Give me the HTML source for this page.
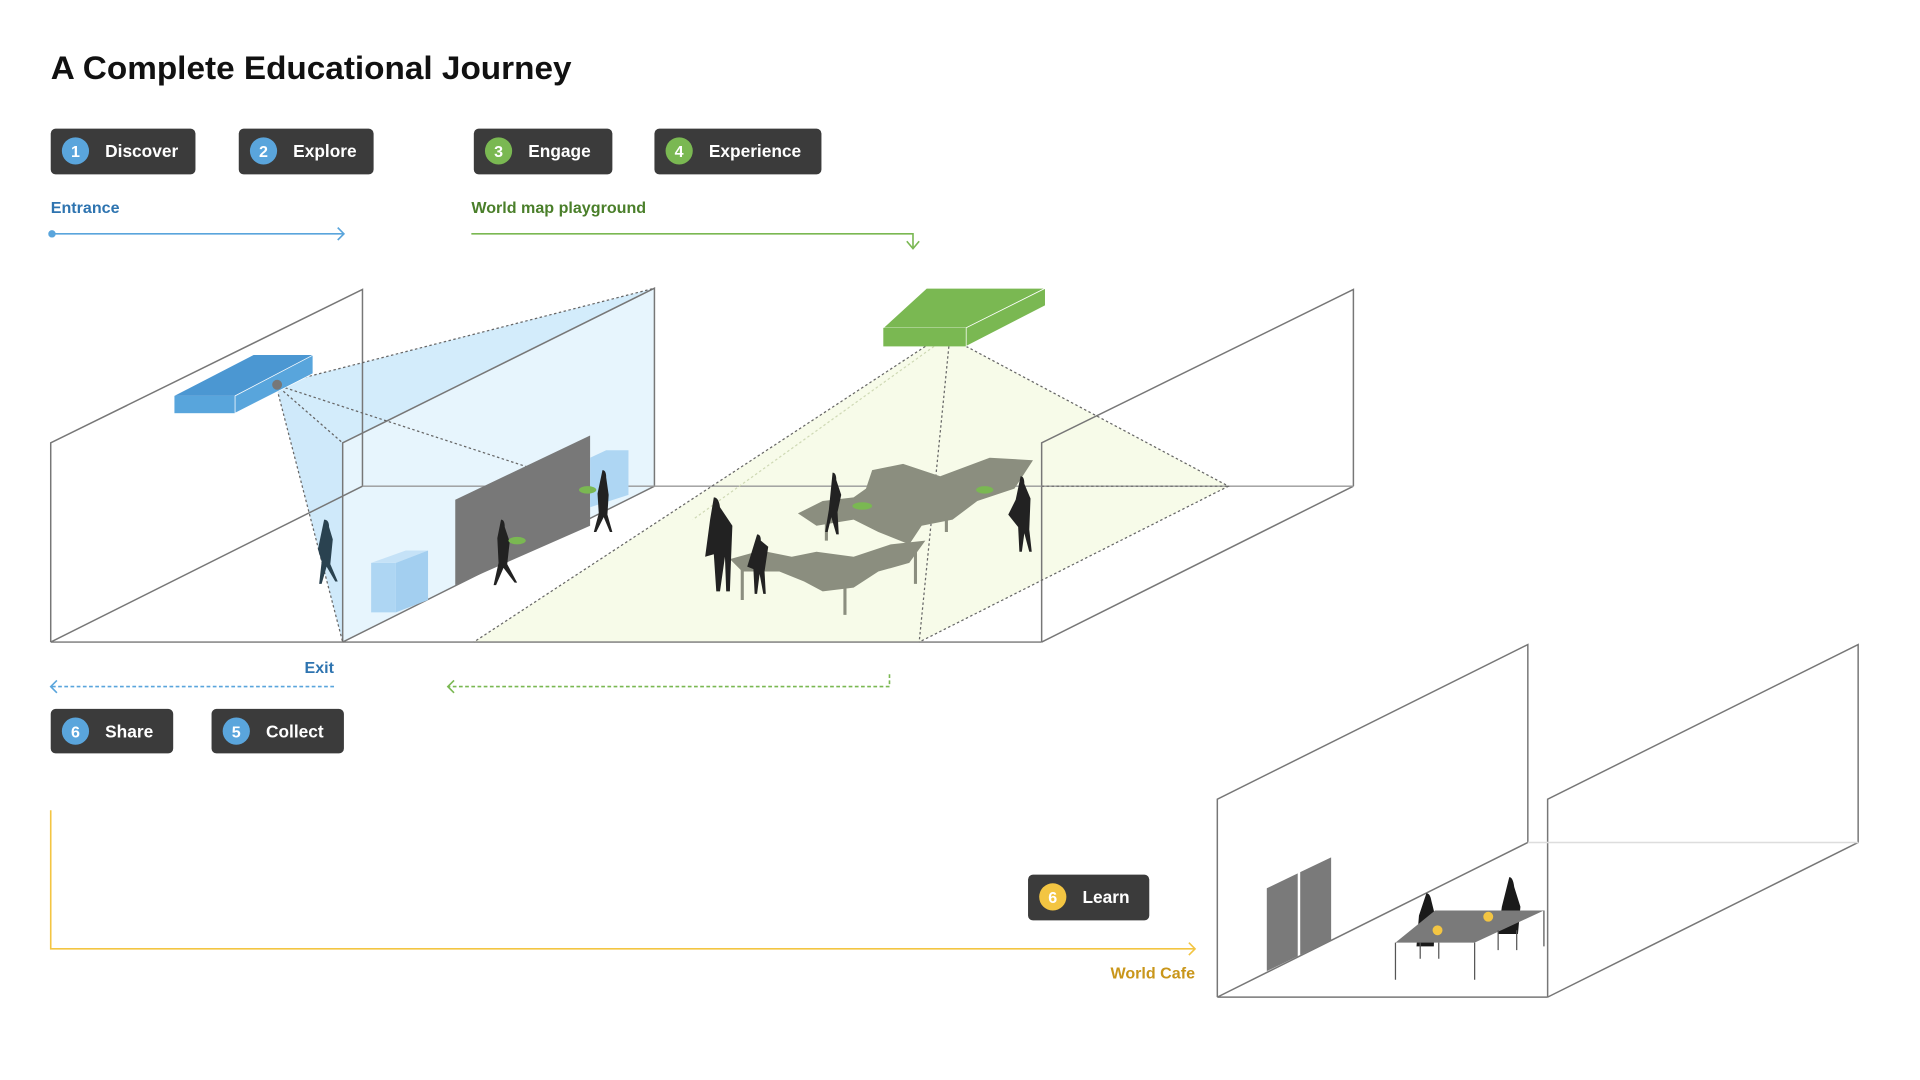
<!DOCTYPE html>
<html><head><meta charset="utf-8"><style>
html,body{margin:0;padding:0;background:#fff;}
svg{display:block;}
text{font-family:"Liberation Sans",sans-serif;}
</style></head><body>
<svg width="1920" height="1080" viewBox="0 0 1552 873" xmlns="http://www.w3.org/2000/svg">
<rect width="1552" height="873" fill="#fff"/>
<text x="41" y="64" font-size="26" font-weight="bold" fill="#111" textLength="421" lengthAdjust="spacingAndGlyphs">A Complete Educational Journey</text>

<!-- top buttons -->
<g font-size="14" font-weight="bold" fill="#fff">
<rect x="41" y="104" width="117" height="37" rx="4" fill="#3b3b3b"/><circle cx="61" cy="122" r="11" fill="#5aa5dc"/><text x="61" y="127" font-size="13" text-anchor="middle">1</text><text x="85" y="127">Discover</text>
<rect x="193" y="104" width="109" height="37" rx="4" fill="#3b3b3b"/><circle cx="213" cy="122" r="11" fill="#5aa5dc"/><text x="213" y="127" font-size="13" text-anchor="middle">2</text><text x="237" y="127">Explore</text>
<rect x="383" y="104" width="112" height="37" rx="4" fill="#3b3b3b"/><circle cx="403" cy="122" r="11" fill="#7ab852"/><text x="403" y="127" font-size="13" text-anchor="middle">3</text><text x="427" y="127">Engage</text>
<rect x="529" y="104" width="135" height="37" rx="4" fill="#3b3b3b"/><circle cx="549" cy="122" r="11" fill="#7ab852"/><text x="549" y="127" font-size="13" text-anchor="middle">4</text><text x="573" y="127">Experience</text>
<rect x="41" y="573" width="99" height="36" rx="4" fill="#3b3b3b"/><circle cx="61" cy="591" r="11" fill="#5aa5dc"/><text x="61" y="596" font-size="13" text-anchor="middle">6</text><text x="85" y="596">Share</text>
<rect x="171" y="573" width="107" height="36" rx="4" fill="#3b3b3b"/><circle cx="191" cy="591" r="11" fill="#5aa5dc"/><text x="191" y="596" font-size="13" text-anchor="middle">5</text><text x="215" y="596">Collect</text>
<rect x="831" y="707" width="98" height="37" rx="4" fill="#3b3b3b"/><circle cx="851" cy="725" r="11" fill="#f3c542"/><text x="851" y="730" font-size="13" text-anchor="middle">6</text><text x="875" y="730">Learn</text>
</g>

<!-- labels and arrows -->
<text x="41" y="172" font-size="13" font-weight="bold" fill="#2e74b0">Entrance</text>
<line x1="41" y1="189" x2="278" y2="189" stroke="#5aa5dc" stroke-width="1.3"/>
<circle cx="42" cy="189" r="3" fill="#5aa5dc"/>
<path d="M273 184 L278 189 L273 194" fill="none" stroke="#5aa5dc" stroke-width="1.3"/>
<text x="381" y="172" font-size="13" font-weight="bold" fill="#4a7f2a">World map playground</text>
<path d="M381 189 H738 V200" fill="none" stroke="#7ab852" stroke-width="1.3"/>
<path d="M733 195 L738 201 L743 195" fill="none" stroke="#7ab852" stroke-width="1.3"/>

<text x="270" y="544" font-size="13" font-weight="bold" fill="#2e74b0" text-anchor="end">Exit</text>
<line x1="42" y1="555" x2="270" y2="555" stroke="#5aa5dc" stroke-width="1.3" stroke-dasharray="3 2"/>
<path d="M46 550 L41 555 L46 560" fill="none" stroke="#5aa5dc" stroke-width="1.3"/>
<path d="M719 545 V555 H363" fill="none" stroke="#7ab852" stroke-width="1.3" stroke-dasharray="3 2"/>
<path d="M367 550 L362 555 L367 560" fill="none" stroke="#7ab852" stroke-width="1.3"/>

<path d="M41 655 V767 H966" fill="none" stroke="#f3c542" stroke-width="1.3"/>
<path d="M961 762 L966 767 L961 772" fill="none" stroke="#f3c542" stroke-width="1.3"/>
<text x="966" y="791" font-size="13" font-weight="bold" fill="#c9961a" text-anchor="end">World Cafe</text>

<!-- room 1 fills -->
<polygon points="277,358 529,233 529,393 277,519" fill="#e7f5fd"/>
<polygon points="223,311 529,233 277,358" fill="#d3ecfb"/>
<polygon points="223,311 277,358 277,519" fill="#cfe9fa"/>
<polygon points="748,280 383,519 743,519 993,393 781,280" fill="#f7fbe9"/>

<!-- room 1 lines -->
<g stroke="#777" stroke-width="1.2" fill="none">
<path d="M41 519 V358 L293 234 V393"/>
<path d="M277 519 V358 L529 233 V393"/>
<path d="M842 519 V358 L1094 234 V393"/>
<path d="M41 519 H842"/>
<path d="M41 519 L293 393 M277 519 L529 393 M842 519 L1094 393"/>
<path d="M293 393 H1094" stroke="#999"/>
</g>

<!-- projection dotted lines -->
<g stroke="#666" stroke-width="1" fill="none" stroke-dasharray="2 2">
<path d="M223 311 L529 233 M223 311 L277 358 M223 311 L277 519 M223 311 L480 395"/>
<path d="M748 280 L383 519 M767 280 L743 519 M781 280 L993 393 L743 519 M842 393 H993"/>
<path d="M755 280 L560 420" stroke="#cfd9b5"/>
</g>

<!-- blue projector -->
<polygon points="141,320 205,287 253,287 190,320" fill="#4b97d2"/>
<rect x="141" y="320" width="49" height="14" fill="#58a5dc"/>
<polygon points="190,320 253,287 253,302 190,334" fill="#58a5dc" stroke="#fff" stroke-width="0.6"/>
<circle cx="224" cy="311" r="4" fill="#777"/>

<!-- green projector -->
<polygon points="714,265 749,233 845,233 781,265" fill="#7ab852" stroke="#fff" stroke-width="0.6"/>
<rect x="714" y="265" width="67" height="15" fill="#7ab852"/>
<polygon points="781,265 845,233 845,247 781,280" fill="#7ab852" stroke="#fff" stroke-width="0.6"/>

<!-- grey wall & boxes -->
<polygon points="368,404 477,352 477,425 368,473" fill="#787878"/>
<polygon points="300,455 320,455 320,495 300,495" fill="#aed6f3"/>
<polygon points="300,455 328,445 346,445 320,455" fill="#c5e2f7"/>
<polygon points="320,455 346,445 346,485 320,495" fill="#a3cff0"/>
<polygon points="477,370 490,364 508,364 508,400 477,410" fill="#aed6f3"/>

<!-- map blobs -->
<g fill="#8b8e7f">
<path d="M705 380 L730 375 L760 385 L800 370 L835 372 L820 395 L790 405 L770 420 L745 425 L735 440 L710 430 L690 420 L660 425 L645 415 L665 405 L690 402 L700 395 Z"/>
<path d="M590 452 L615 445 L640 450 L660 446 L690 450 L720 440 L748 437 L735 455 L710 462 L690 475 L665 478 L650 470 L630 462 L600 462 Z"/>
</g>
<g stroke="#8b8e7f" stroke-width="2.5">
<path d="M600 460 V485 M683 470 V497 M740 445 V472 M668 420 V437 M765 420 V430"/>
</g>

<!-- figures -->
<g fill="#222">
<path d="M262 420 q4 0 4 6 l3 10 l-2 20 l6 14 h-2 l-7 -12 l-4 14 h-2 l2 -18 l-3 -10 z" fill="#2a4250"/>
<path d="M405 420 q3 0 3 6 l4 12 l-2 18 l8 15 h-2 l-9 -12 l-6 14 h-2 l4 -18 l-1 -20 z"/>
<path d="M487 380 q3 0 3 6 l2 14 l-1 16 l4 14 h-2 l-5 -12 l-6 12 h-2 l4 -15 l-1 -16 z"/>
<path d="M577 402 q4 0 5 8 l10 15 l-1 25 l-1 28 h-3 l-1 -28 l-4 28 h-3 l-2 -30 l-7 2 l4 -30 z"/>
<path d="M612 432 q3 0 3 5 l6 5 l-3 20 l1 18 h-2 l-3 -16 l-2 16 h-2 l-1 -20 l-5 -2 z"/>
<path d="M673 382 q3 0 3 6 l4 12 l-3 14 l1 18 h-2 l-4 -14 l-3 12 h-2 l3 -18 z"/>
<path d="M825 385 q3 0 3 6 l5 12 l-1 25 l2 18 h-2 l-4 -15 l-2 15 h-2 l-1 -20 l-8 -10 l6 -12 z"/>
</g>
<g fill="#7ab852">
<ellipse cx="418" cy="437" rx="7" ry="3"/><ellipse cx="475" cy="396" rx="7" ry="3"/>
<ellipse cx="697" cy="409" rx="8" ry="3"/><ellipse cx="796" cy="396" rx="7" ry="3"/>
</g>

<!-- room 2 -->
<g stroke="#777" stroke-width="1.2" fill="none">
<path d="M984 806 V646 L1235 521 V681"/>
<path d="M1251 806 V646 L1502 521 V681"/>
<path d="M984 806 H1251 M984 806 L1235 681 M1251 806 L1502 681"/>
<path d="M1235 681 H1502" stroke="#ddd"/>
</g>
<polygon points="1024,718 1049,706 1049,773 1024,785" fill="#7a7a7a"/>
<polygon points="1051,705 1076,693 1076,760 1051,772" fill="#7a7a7a"/>
<g fill="#1a1a1a">
<path d="M1153 722 q3 0 4 6 l3 12 l-1 25 h-14 l2 -25 z"/>
<path d="M1220 709 q3 0 4 8 l5 16 l-2 22 h-16 l3 -22 z"/>
</g>
<polygon points="1128,762 1160,736 1248,736 1192,762" fill="#7a7a7a"/>
<g stroke="#555" stroke-width="1">
<path d="M1128 762 V792 M1192 762 V792 M1248 736 V765 M1148 762 V775 M1163 762 V775 M1211 752 V768 M1226 752 V768"/>
</g>
<circle cx="1162" cy="752" r="4" fill="#f3c542"/>
<circle cx="1203" cy="741" r="4" fill="#f3c542"/>
</svg>
</body></html>
